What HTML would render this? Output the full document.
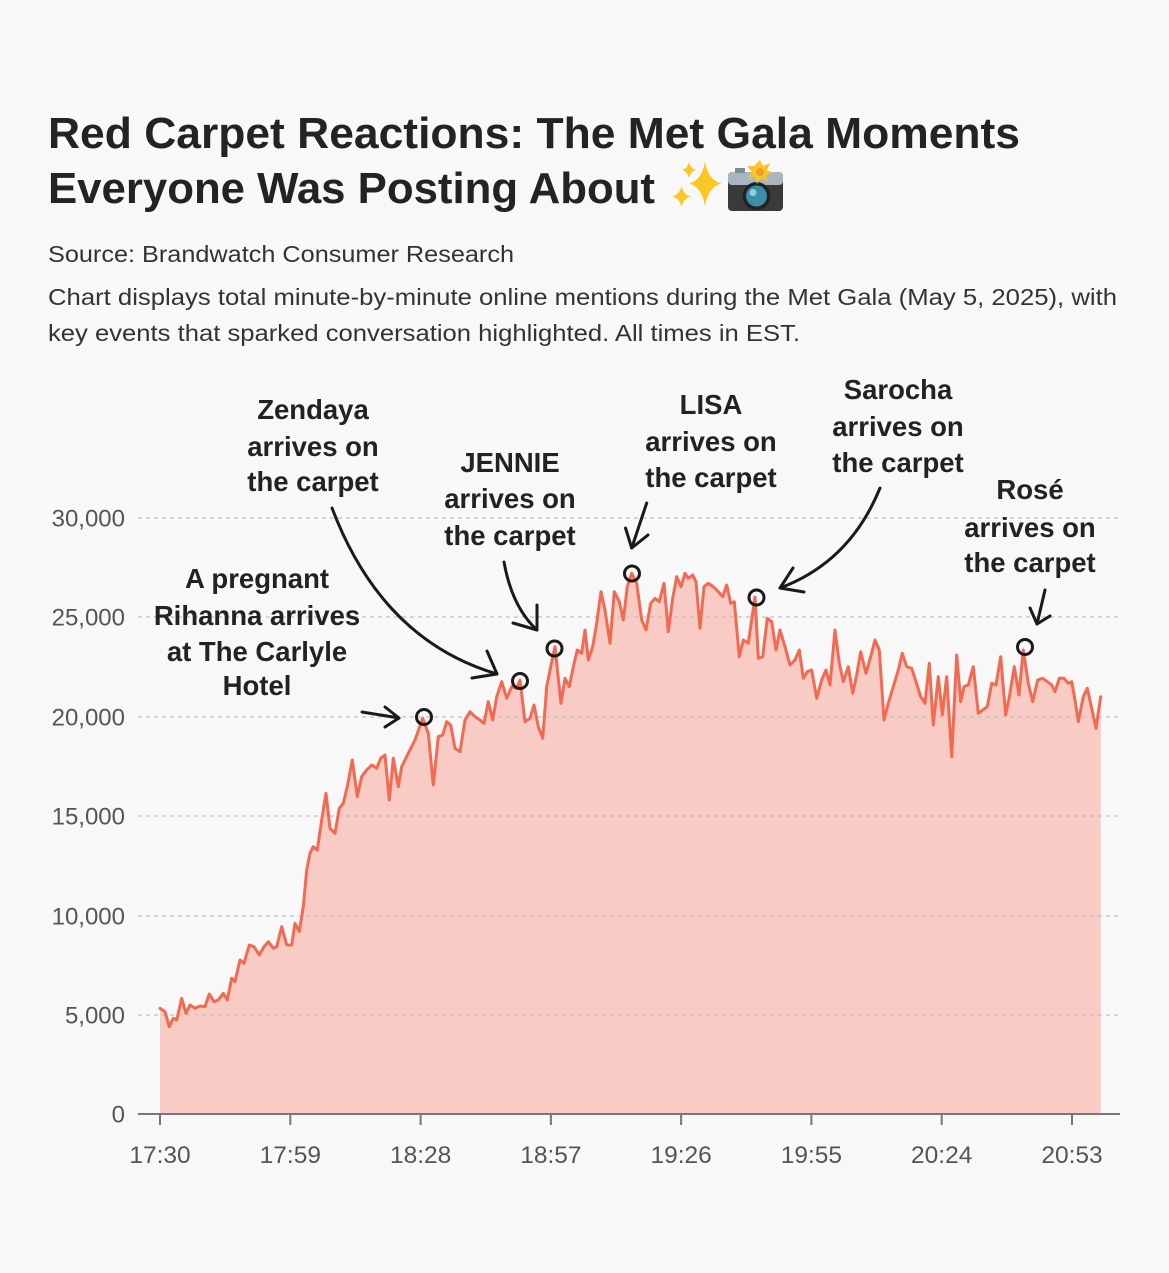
<!DOCTYPE html>
<html>
<head>
<meta charset="utf-8">
<style>
html,body{margin:0;padding:0;background:#f8f8f8;}
svg{display:block;}
text{font-family:"Liberation Sans",Arial,sans-serif;}
</style>
</head>
<body>
<svg width="1169" height="1273" viewBox="0 0 1169 1273" xmlns="http://www.w3.org/2000/svg">
<rect width="1169" height="1273" fill="#f8f8f8"/>

<!-- Title -->
<text x="48" y="148" font-size="44" font-weight="bold" fill="#232323" textLength="972" lengthAdjust="spacingAndGlyphs">Red Carpet Reactions: The Met Gala Moments</text>
<text x="48" y="203" font-size="44" font-weight="bold" fill="#232323" textLength="607" lengthAdjust="spacingAndGlyphs">Everyone Was Posting About</text>

<!-- sparkles emoji -->
<g fill="#f9c825">
  <path d="M705,161.5 Q708,180 721.5,183.5 Q708,187 705,206.5 Q702,187 689,183.5 Q702,180 705,161.5Z"/>
  <path d="M689,162 Q690.5,168.5 696,170 Q690.5,171.5 689,178 Q687.5,171.5 682,170 Q687.5,168.5 689,162Z"/>
  <path d="M681.5,186 Q683.5,195 691,196.5 Q683.5,198 681.5,207 Q679.5,198 672,196.5 Q679.5,195 681.5,186Z"/>
</g>
<!-- camera with flash emoji -->
<g>
  <rect x="728" y="172" width="55" height="39" rx="4" fill="#3a3a3a"/>
  <rect x="728" y="172" width="55" height="13" rx="4" fill="#a9b6bf"/>
  <rect x="735" y="168" width="10" height="5" fill="#7d8b94"/>
  <circle cx="756.5" cy="196" r="14" fill="#222"/>
  <circle cx="756.5" cy="196" r="10.5" fill="#3a8ea6"/>
  <circle cx="753" cy="192.5" r="3.5" fill="#8fd0e0"/>
  <path d="M760,160 L763,166 L770,163 L767,170 L773,173 L766,175 L768,182 L761,178 L757,184 L755,177 L748,178 L752,172 L747,166 L754,166 Z" fill="#f7c526"/>
  <circle cx="760" cy="172" r="4" fill="#f39a2a"/>
</g>

<!-- Source & description -->
<text x="48" y="262" font-size="23" fill="#333" textLength="466" lengthAdjust="spacingAndGlyphs">Source: Brandwatch Consumer Research</text>
<text x="48" y="305" font-size="23" fill="#333" textLength="1069" lengthAdjust="spacingAndGlyphs">Chart displays total minute-by-minute online mentions during the Met Gala (May 5, 2025), with</text>
<text x="48" y="341" font-size="23" fill="#333" textLength="752" lengthAdjust="spacingAndGlyphs">key events that sparked conversation highlighted. All times in EST.</text>

<!-- Area fill -->
<path fill="#f9cbc5" d="M160,1114 L160,1008.3 165,1011.7 169.3,1026.7 173.3,1018.3 176.7,1020 181.7,998.3 186,1013.3 190,1005 195,1008.3 200,1006 205,1006.7 209.3,994 214,1001.7 218.3,1000 223.3,993.3 227.3,1000 231.7,978.3 235,981.7 240,960 244,963.3 249.3,945 254,946.7 259.3,955 264,946.7 268.3,941.7 273.3,948.3 276.7,946.7 281.7,926.7 286.7,945 291.7,945 295,923.3 299.3,931.7 303.3,906.7 306.7,870 310,853.3 313.3,846.7 317.3,850 321.7,820 326,793.3 330,828.3 335,833.3 339.3,808.3 343.3,803.3 347.3,786.7 352.3,760 357.3,796.7 361.7,776.7 366.7,770 371.7,765 376.7,768.3 380.7,758.3 385,755 389.3,800 393.3,758.3 398.3,786.7 401.7,766.7 408.3,753.3 415,740 422.7,718.3 428.3,733.3 433.3,785 438.3,736.7 442.7,735 446.7,721.7 450.7,725 455,748.3 460,751.7 465,720 470,711.7 475,716.7 480,720 484,723.3 488.3,701.7 492.7,720 496.7,696.7 501.7,681.7 506.7,698.3 511.7,686.7 516.7,688.3 520,680 525,721.7 530,718.3 534,705 538.3,726.7 542.7,738.3 546.7,686.7 550.7,666.7 555,646.7 558.3,678.3 561,703.3 565,678.3 569.3,686.7 573.3,666.7 577.3,650 581.7,653.3 585,630 588.3,660 592.7,646.7 596.7,623.3 601,591.7 605,610 610,643.3 614.3,591.7 619.3,601.7 623.3,620 627.3,586.7 631.7,573.3 636.7,583.3 641.7,620 646,630 650.7,603.3 655,598.3 659.3,601.7 664,583.3 668.3,631.7 672.7,598.3 676.7,576.7 681,586.7 685,573.3 688.3,578.3 692.7,575 696,581.7 700,628.3 704,586.7 708.3,583.3 713.3,586.7 718.3,591.7 722.7,596.7 726.7,585 730.7,603.3 734.3,601.7 739.3,656.7 743.3,640 748.3,643.3 755,597 758.3,658.3 762.7,656.7 767.3,618.3 771.7,621.7 776,650 780,630 785,646.7 790,665 795,660 799.3,650 803.3,678.3 807.3,671.7 811.7,670 816.7,698.3 821.7,680 826,670 830,685 835,630 839.3,663.3 843.3,681.7 848.3,666.7 852.7,693.3 856.7,675 860.7,651.7 866,673.3 870.7,656.7 875,640 879.3,650 884,720 888.3,703.3 893.3,686.7 898.3,670 902.3,653.3 906.7,666.7 911.7,668.3 916,681.7 920.7,696.7 925,703.3 929.3,663.3 933.3,725 938.3,676.7 942.3,715 946.7,676.7 951.7,756.7 956.7,655 960.7,701.7 964,686.7 968.3,685 973.3,666.7 978.3,713.3 982.7,710 987.3,706.7 991.7,683.3 996,685 1000.7,656.7 1005.7,715 1010,693.3 1014.3,666.7 1019,695 1023.3,650 1028.3,683.3 1032.7,701.7 1037.7,680 1042.7,678.3 1047.3,681.7 1051.7,685 1055,691.7 1059.3,678.3 1064,678.3 1068.3,683.3 1071.7,681.7 1075,700 1078.3,721.7 1083.3,696.7 1087.3,688.3 1091.7,708.3 1096,728.3 1100.7,696.7 L1100.7,1114 Z"/>

<!-- Gridlines -->
<g stroke="#c4c4c4" stroke-width="1.5" stroke-dasharray="4 4" opacity="0.9">
  <line x1="138" y1="1015" x2="1120" y2="1015"/>
  <line x1="138" y1="916" x2="1120" y2="916"/>
  <line x1="138" y1="816" x2="1120" y2="816"/>
  <line x1="138" y1="717" x2="1120" y2="717"/>
  <line x1="138" y1="617" x2="1120" y2="617"/>
  <line x1="138" y1="518" x2="1120" y2="518"/>
</g>

<!-- Line -->
<polyline fill="none" stroke="#f26a52" stroke-width="3" stroke-linejoin="round" stroke-linecap="round" points="160,1008.3 165,1011.7 169.3,1026.7 173.3,1018.3 176.7,1020 181.7,998.3 186,1013.3 190,1005 195,1008.3 200,1006 205,1006.7 209.3,994 214,1001.7 218.3,1000 223.3,993.3 227.3,1000 231.7,978.3 235,981.7 240,960 244,963.3 249.3,945 254,946.7 259.3,955 264,946.7 268.3,941.7 273.3,948.3 276.7,946.7 281.7,926.7 286.7,945 291.7,945 295,923.3 299.3,931.7 303.3,906.7 306.7,870 310,853.3 313.3,846.7 317.3,850 321.7,820 326,793.3 330,828.3 335,833.3 339.3,808.3 343.3,803.3 347.3,786.7 352.3,760 357.3,796.7 361.7,776.7 366.7,770 371.7,765 376.7,768.3 380.7,758.3 385,755 389.3,800 393.3,758.3 398.3,786.7 401.7,766.7 408.3,753.3 415,740 422.7,718.3 428.3,733.3 433.3,785 438.3,736.7 442.7,735 446.7,721.7 450.7,725 455,748.3 460,751.7 465,720 470,711.7 475,716.7 480,720 484,723.3 488.3,701.7 492.7,720 496.7,696.7 501.7,681.7 506.7,698.3 511.7,686.7 516.7,688.3 520,680 525,721.7 530,718.3 534,705 538.3,726.7 542.7,738.3 546.7,686.7 550.7,666.7 555,646.7 558.3,678.3 561,703.3 565,678.3 569.3,686.7 573.3,666.7 577.3,650 581.7,653.3 585,630 588.3,660 592.7,646.7 596.7,623.3 601,591.7 605,610 610,643.3 614.3,591.7 619.3,601.7 623.3,620 627.3,586.7 631.7,573.3 636.7,583.3 641.7,620 646,630 650.7,603.3 655,598.3 659.3,601.7 664,583.3 668.3,631.7 672.7,598.3 676.7,576.7 681,586.7 685,573.3 688.3,578.3 692.7,575 696,581.7 700,628.3 704,586.7 708.3,583.3 713.3,586.7 718.3,591.7 722.7,596.7 726.7,585 730.7,603.3 734.3,601.7 739.3,656.7 743.3,640 748.3,643.3 755,597 758.3,658.3 762.7,656.7 767.3,618.3 771.7,621.7 776,650 780,630 785,646.7 790,665 795,660 799.3,650 803.3,678.3 807.3,671.7 811.7,670 816.7,698.3 821.7,680 826,670 830,685 835,630 839.3,663.3 843.3,681.7 848.3,666.7 852.7,693.3 856.7,675 860.7,651.7 866,673.3 870.7,656.7 875,640 879.3,650 884,720 888.3,703.3 893.3,686.7 898.3,670 902.3,653.3 906.7,666.7 911.7,668.3 916,681.7 920.7,696.7 925,703.3 929.3,663.3 933.3,725 938.3,676.7 942.3,715 946.7,676.7 951.7,756.7 956.7,655 960.7,701.7 964,686.7 968.3,685 973.3,666.7 978.3,713.3 982.7,710 987.3,706.7 991.7,683.3 996,685 1000.7,656.7 1005.7,715 1010,693.3 1014.3,666.7 1019,695 1023.3,650 1028.3,683.3 1032.7,701.7 1037.7,680 1042.7,678.3 1047.3,681.7 1051.7,685 1055,691.7 1059.3,678.3 1064,678.3 1068.3,683.3 1071.7,681.7 1075,700 1078.3,721.7 1083.3,696.7 1087.3,688.3 1091.7,708.3 1096,728.3 1100.7,696.7"/>

<!-- X axis -->
<line x1="138" y1="1114" x2="1120" y2="1114" stroke="#777" stroke-width="2"/>
<g stroke="#777" stroke-width="2">
  <line x1="160" y1="1114" x2="160" y2="1125"/>
  <line x1="290.3" y1="1114" x2="290.3" y2="1125"/>
  <line x1="420.6" y1="1114" x2="420.6" y2="1125"/>
  <line x1="550.9" y1="1114" x2="550.9" y2="1125"/>
  <line x1="681.1" y1="1114" x2="681.1" y2="1125"/>
  <line x1="811.4" y1="1114" x2="811.4" y2="1125"/>
  <line x1="941.7" y1="1114" x2="941.7" y2="1125"/>
  <line x1="1072" y1="1114" x2="1072" y2="1125"/>
</g>
<g font-size="24.5" fill="#555" text-anchor="middle">
  <text x="160" y="1163">17:30</text>
  <text x="290.3" y="1163">17:59</text>
  <text x="420.6" y="1163">18:28</text>
  <text x="550.9" y="1163">18:57</text>
  <text x="681.1" y="1163">19:26</text>
  <text x="811.4" y="1163">19:55</text>
  <text x="941.7" y="1163">20:24</text>
  <text x="1072" y="1163">20:53</text>
</g>
<!-- Y labels -->
<g font-size="24" fill="#555" text-anchor="end">
  <text x="125" y="1122.5">0</text>
  <text x="125" y="1023.5">5,000</text>
  <text x="125" y="924.5">10,000</text>
  <text x="125" y="824.5">15,000</text>
  <text x="125" y="725.5">20,000</text>
  <text x="125" y="625.5">25,000</text>
  <text x="125" y="526.5">30,000</text>
</g>

<!-- Markers -->
<g fill="none" stroke="#1a1a1a" stroke-width="3">
  <circle cx="424" cy="717" r="7.5"/>
  <circle cx="520" cy="681" r="7.5"/>
  <circle cx="554.5" cy="648.5" r="7.5"/>
  <circle cx="632" cy="573.5" r="7.5"/>
  <circle cx="756.5" cy="597.5" r="7.5"/>
  <circle cx="1025" cy="647" r="7.5"/>
</g>

<!-- Arrows -->
<g fill="none" stroke="#1a1a1a" stroke-width="3" stroke-linecap="round" stroke-linejoin="round">
  <path d="M362,712 L399,718"/>
  <path d="M385,707 L399,718 L385,727"/>
  <path d="M332,508 Q382,640 497,674"/>
  <path d="M487,651 L497,674 L472,678"/>
  <path d="M504,562 Q512,607 537,630"/>
  <path d="M537,605 L537,630 L513,623"/>
  <path d="M646.7,503 L631.7,548"/>
  <path d="M625.5,528 L631.7,548 L648,535"/>
  <path d="M880,488 Q850,562 780,588"/>
  <path d="M793,568 L780,588 L804,592"/>
  <path d="M1045,590 L1037,624"/>
  <path d="M1030,608 L1037,624 L1050,616"/>
</g>

<!-- Annotation text -->
<g font-size="27.5" font-weight="bold" fill="#222" text-anchor="middle">
  <text x="313" y="419">Zendaya</text>
  <text x="313" y="456">arrives on</text>
  <text x="313" y="491">the carpet</text>

  <text x="510" y="472">JENNIE</text>
  <text x="510" y="508">arrives on</text>
  <text x="510" y="545">the carpet</text>

  <text x="257" y="588">A pregnant</text>
  <text x="257" y="625">Rihanna arrives</text>
  <text x="257" y="661">at The Carlyle</text>
  <text x="257" y="695">Hotel</text>

  <text x="711" y="414">LISA</text>
  <text x="711" y="451">arrives on</text>
  <text x="711" y="487">the carpet</text>

  <text x="898" y="399">Sarocha</text>
  <text x="898" y="436">arrives on</text>
  <text x="898" y="472">the carpet</text>

  <text x="1030" y="499">Rosé</text>
  <text x="1030" y="537">arrives on</text>
  <text x="1030" y="572">the carpet</text>
</g>
</svg>
</body>
</html>
